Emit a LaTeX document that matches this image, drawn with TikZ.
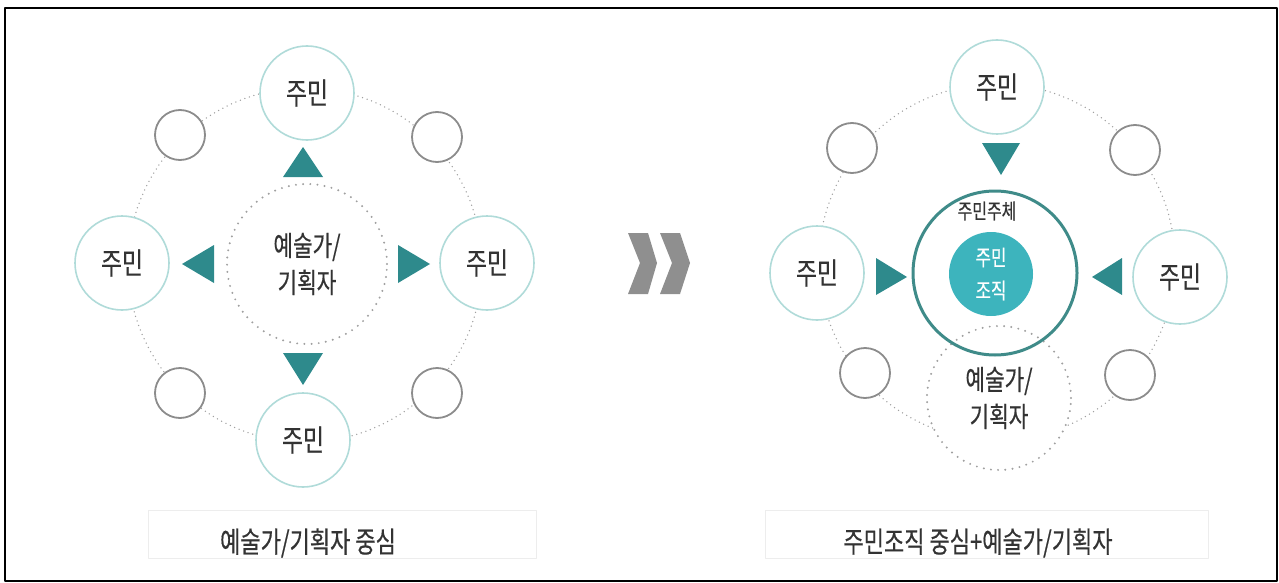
\documentclass[tikz,border=0pt]{standalone}
\usepackage{fontspec}
\newfontfamily\krfont[FakeStretch=0.76, FakeBold=0.5]{Noto Sans CJK KR}
\definecolor{tealline}{HTML}{B0DBD9}
\definecolor{tealdark}{HTML}{2E8A8C}
\definecolor{tealring}{HTML}{3F8B89}
\definecolor{tealfill}{HTML}{3DB4BD}
\definecolor{ringgray}{HTML}{A0A0A0}
\definecolor{smallgray}{HTML}{8C8C8C}
\definecolor{txtgray}{HTML}{333333}
\definecolor{chevgray}{HTML}{8F8F8F}
\begin{document}
\begin{tikzpicture}[x=0.5pt, y=-0.5pt, font=\krfont, line join=round, line cap=round,
	jumin/.style={circle, draw=tealline, line width=0.8pt, fill=white, minimum size=47pt, inner sep=0pt, text=txtgray, font=\krfont\fontsize{15}{17}\selectfont},
	emptydot/.style={circle, draw=smallgray, line width=0.9pt, fill=white, minimum size=25pt, inner sep=0pt},
	ring/.style={draw=ringgray, line width=0.75pt, dash pattern=on 0pt off 2.4pt},
	artist/.style={circle, draw=ringgray, line width=1.1pt, dash pattern=on 0pt off 3.6pt, fill=white, inner sep=0pt, align=center, text=txtgray, font=\krfont\fontsize{14}{18.5}\selectfont},
	tri/.style={fill=tealdark},
	capbox/.style={draw=black!7, line width=0.5pt},
	captext/.style={text=txtgray, font=\krfont\fontsize{14.5}{16}\selectfont}]
	\useasboundingbox (0,0) rectangle (1279,583);
	\draw[black, line width=1pt] (5,8) rectangle (1277,581);
	% left: artist in the middle
	\draw[ring] (305,265) circle[radius=177];
	\node[artist, minimum size=80pt] (lart) at (307,264) {예술가/\\기획자};
	\node[jumin] (ltop) at (307,93) {주민};
	\node[jumin] (lleft) at (122,263) {주민};
	\node[jumin] (lright) at (487,263) {주민};
	\node[jumin] (lbot) at (303,440) {주민};
	\node[emptydot] (ltl) at (180,135) {};
	\node[emptydot] (ltr) at (437,137) {};
	\node[emptydot] (lbl) at (180,393) {};
	\node[emptydot] (lbr) at (437,393) {};
	\fill[tri] (283,177)--(323,177)--(303,147)--cycle;
	\fill[tri] (214,245)--(214,283)--(182,264)--cycle;
	\fill[tri] (398,245)--(398,283)--(430,264)--cycle;
	\fill[tri] (283,353)--(323,353)--(303,385)--cycle;
	% chevrons
	\fill[chevgray] (628,233)--(648,233)--(657,263)--(648,294)--(628,294)--(640,263)--cycle;
	\fill[chevgray] (660,233)--(680,233)--(690,263)--(680,294)--(660,294)--(672,263)--cycle;
	% right: residents' organisation in the middle
	\draw[ring] (997,262) circle[radius=178];
	\node[jumin] (rtop) at (997,87) {주민};
	\node[jumin] (rleft) at (817,273) {주민};
	\node[jumin] (rright) at (1180,277) {주민};
	\node[emptydot] (rtl) at (852,148) {};
	\node[emptydot] (rtr) at (1135,150) {};
	\node[emptydot] (rbl) at (865,373) {};
	\node[emptydot] (rbr) at (1130,375) {};
	\node[artist, minimum size=72pt] (rart) at (999,398) {예술가/\\기획자};
	\node[circle, draw=tealring, line width=1.5pt, minimum size=82pt, inner sep=0pt] (hub) at (995,273) {};
	\node[circle, fill=tealfill, minimum size=42pt, inner sep=0pt, align=center, text=white, font=\krfont\fontsize{11}{16.5}\selectfont] (org) at (991,274) {주민\\조직};
	\node[text=txtgray, font=\krfont\fontsize{10.5}{12}\selectfont] (subj) at (987,211) {주민주체};
	\fill[tri] (982,143)--(1020,143)--(1001,175)--cycle;
	\fill[tri] (876,258)--(876,295)--(907,277)--cycle;
	\fill[tri] (1122,258)--(1122,295)--(1092,277)--cycle;
	% captions
	\draw[capbox] (148,510) rectangle (536,558);
	\draw[capbox] (765,510) rectangle (1208,558);
	\node[captext] (lcap) at (308,543) {예술가/기획자 중심};
	\node[captext] (rcap) at (978,543) {주민조직 중심+예술가/기획자};
\end{tikzpicture}
\end{document}
